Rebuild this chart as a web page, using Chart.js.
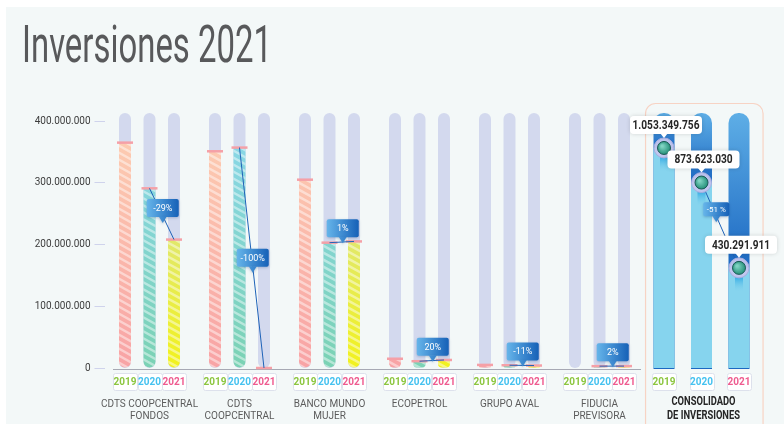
<!DOCTYPE html>
<html>
<head>
<meta charset="utf-8">
<script src="https://cdn.jsdelivr.net/npm/chart.js@4.4.1/dist/chart.umd.min.js"></script>
<style>
  html, body { margin: 0; padding: 0; background: #fff; }
  #wrap { position: relative; width: 784px; height: 424px; overflow: hidden; }
  #panel { position: absolute; left: 6px; top: 7px; right: 0; bottom: 0; background: #f3f8f8; }
  #main { position: absolute; left: 0; top: 0; }
  #cons { position: absolute; left: 600px; top: 0; }
</style>
</head>
<body>
<div id="wrap">
  <div id="panel"></div>
  <canvas id="main" width="784" height="424"></canvas>
  <canvas id="cons" width="184" height="424"></canvas>
</div>
<script>
// datos
const categories = [['CDTS COOPCENTRAL', 'FONDOS'], ['CDTS', 'COOPCENTRAL'], ['BANCO MUNDO', 'MUJER'], ['ECOPETROL'], ['GRUPO AVAL'], ['FIDUCIA', 'PREVISORA']];
const years = ['2019', '2020', '2021'];
const values2019 = [365e6, 351e6, 305e6, 15e6, 5e6, null];
const values2020 = [291e6, 357e6, 203e6, 11e6, 4.5e6, 3e6];
const values2021 = [208e6, 0, 205e6, 13e6, 4e6, 3.1e6];
const changes = ['-29%', '-100%', '1%', '20%', '-11%', '2%'];
const yTicks = [0, 100e6, 200e6, 300e6, 400e6];
const consolidated = [1053349756, 873623030, 430291911];
const consolidatedChange = '-51 %';
const consolidatedTitle = ['CONSOLIDADO', 'DE INVERSIONES'];
const title = 'Inversiones 2021';

// ejes
const Y_MAX = 413e6;
const CONS_MIN = -90e6;
const CONS_MAX = 1235e6;

const yearColors = { '2019': '#8cc63f', '2020': '#45c2f0', '2021': '#ef5b8f' };

const fmt = n => Math.round(n).toString().replace(/\B(?=(\d{3})+(?!\d))/g, '.');

function grad(bottom, top) {
  return c => {
    const ca = c.chart.chartArea;
    if (!ca) return bottom;
    const g = c.chart.ctx.createLinearGradient(0, ca.bottom, 0, ca.top);
    g.addColorStop(0, bottom);
    g.addColorStop(1, top);
    return g;
  };
}

function yearBox(ctx, x, text) {
  ctx.save();
  ctx.fillStyle = '#fff';
  ctx.strokeStyle = '#dde1ec';
  ctx.lineWidth = 1;
  ctx.beginPath();
  ctx.roundRect(Math.round(x - 12) + 0.5, 373.5, 24, 17, 2);
  ctx.fill();
  ctx.stroke();
  ctx.fillStyle = yearColors[text];
  ctx.font = 'bold 10px Roboto';
  ctx.textAlign = 'center';
  ctx.textBaseline = 'middle';
  ctx.fillText(text, x, 382.5);
  ctx.restore();
}

function callout(ctx, cx, cy, w, h, text, size) {
  ctx.save();
  const g = ctx.createLinearGradient(cx - w / 2, 0, cx + w / 2, 0);
  g.addColorStop(0, '#66b5ea');
  g.addColorStop(1, '#1660b7');
  ctx.shadowColor = 'rgba(0,40,100,0.25)';
  ctx.shadowBlur = 3;
  ctx.shadowOffsetY = 1;
  ctx.fillStyle = g;
  ctx.beginPath();
  ctx.roundRect(cx - w / 2, cy - h / 2, w, h, 2);
  ctx.fill();
  ctx.beginPath();
  ctx.moveTo(cx - 4, cy + h / 2 - 0.5);
  ctx.lineTo(cx + 4, cy + h / 2 - 0.5);
  ctx.lineTo(cx, cy + h / 2 + 6);
  ctx.closePath();
  ctx.fill();
  ctx.restore();
  ctx.save();
  ctx.fillStyle = '#fff';
  ctx.font = size + 'px Roboto';
  ctx.textAlign = 'center';
  ctx.textBaseline = 'middle';
  ctx.fillText(text, cx, cy + 0.5);
  ctx.restore();
}

function condensed(ctx, text, x, y, font, color, sx) {
  ctx.save();
  ctx.font = font;
  ctx.fillStyle = color;
  ctx.textAlign = 'center';
  ctx.textBaseline = 'middle';
  ctx.translate(x, y);
  ctx.scale(sx, 1);
  ctx.fillText(text, 0, 0);
  ctx.restore();
}

// grafico principal
const mainPlugin = {
  id: 'mainDecor',
  beforeDatasetsDraw(chart) {
    const { ctx, chartArea } = chart;
    // titulo
    ctx.save();
    ctx.font = '52px Roboto';
    const tw = ctx.measureText(title).width;
    ctx.fillStyle = '#58595b';
    ctx.textBaseline = 'alphabetic';
    ctx.translate(22, 62);
    ctx.scale(250 / tw, 1);
    ctx.fillText(title, 0, 0);
    ctx.restore();
    // pistas
    ctx.save();
    ctx.fillStyle = '#d3d9ee';
    chart.data.datasets.forEach((ds, di) => {
      chart.getDatasetMeta(di).data.forEach(el => {
        if (!isFinite(el.x)) return;
        ctx.beginPath();
        ctx.roundRect(el.x - 6, chartArea.top, 12, chartArea.bottom - chartArea.top, 6);
        ctx.fill();
      });
    });
    // eje x
    ctx.strokeStyle = '#a7a9b4';
    ctx.lineWidth = 1;
    ctx.beginPath();
    ctx.moveTo(113, chartArea.bottom + 1.5);
    ctx.lineTo(641, chartArea.bottom + 1.5);
    ctx.stroke();
    ctx.restore();
  },
  afterDatasetsDraw(chart) {
    const { ctx, scales } = chart;
    const metas = [0, 1, 2].map(i => chart.getDatasetMeta(i));
    // rayas y tapas
    metas.forEach((meta, di) => {
      meta.data.forEach((el, i) => {
        if (chart.data.datasets[di].data[i] === null) return;
        const w = el.width, x0 = el.x - w / 2;
        const top = Math.min(el.y, el.base), h = Math.abs(el.base - el.y);
        if (h > 1) {
          const r = Math.min(6, h / 2, w / 2);
          ctx.save();
          ctx.beginPath();
          ctx.roundRect(x0, top, w, h, [0, 0, r, r]);
          ctx.clip();
          ctx.strokeStyle = 'rgba(255,255,255,0.45)';
          ctx.lineWidth = 2.5;
          for (let y = top - 12; y < el.base + 4; y += 7) {
            ctx.beginPath();
            ctx.moveTo(x0 - 2, y);
            ctx.lineTo(x0 + w + 2, y + (w + 4) * 0.55);
            ctx.stroke();
          }
          ctx.restore();
        }
        ctx.save();
        ctx.strokeStyle = '#f5a0a7';
        ctx.lineWidth = 2.5;
        ctx.beginPath();
        ctx.moveTo(el.x - 8, el.y);
        ctx.lineTo(el.x + 8, el.y);
        ctx.stroke();
        ctx.restore();
      });
    });
    // variaciones
    changes.forEach((txt, i) => {
      const a = metas[1].data[i], b = metas[2].data[i];
      if (values2020[i] === null || values2021[i] === null) return;
      ctx.save();
      ctx.strokeStyle = '#1f63b8';
      ctx.lineWidth = 1;
      ctx.beginPath();
      ctx.moveTo(a.x, a.y);
      ctx.lineTo(b.x, b.y);
      ctx.stroke();
      ctx.restore();
      const mx = (a.x + b.x) / 2, my = (a.y + b.y) / 2;
      const dy = Math.abs(b.y - a.y);
      const cy = my - 14 * Math.max(0, 1 - dy / 90);
      callout(ctx, mx + 1, cy, 32, 18, txt, 9);
    });
    // etiquetas
    metas.forEach((meta, di) => {
      meta.data.forEach(el => yearBox(ctx, el.x, years[di]));
    });
    ctx.save();
    ctx.fillStyle = '#5b5b5b';
    ctx.font = '10px Roboto';
    ctx.textAlign = 'center';
    ctx.textBaseline = 'middle';
    categories.forEach((lines, i) => {
      const x = scales.x.getPixelForValue(i);
      lines.forEach((l, k) => ctx.fillText(l, x, 404 + k * 12));
    });
    ctx.restore();
  }
};

new Chart(document.getElementById('main'), {
  type: 'bar',
  data: {
    labels: categories,
    datasets: [
      { label: '2019', data: values2019, backgroundColor: grad('#f8a3a5', '#fdd0b2') },
      { label: '2020', data: values2020, backgroundColor: grad('#7bd2b4', '#8ad7ec') },
      { label: '2021', data: values2021, backgroundColor: grad('#f2f21c', '#d0deb8') }
    ].map(d => Object.assign(d, {
      borderSkipped: false,
      borderRadius: { topLeft: 0, topRight: 0, bottomLeft: 6, bottomRight: 6 },
      categoryPercentage: 0.8167,
      barPercentage: 0.49
    }))
  },
  options: {
    responsive: false,
    animation: false,
    layout: { padding: { left: 0, right: 139.5, top: 113, bottom: 56 } },
    plugins: { legend: { display: false }, tooltip: { enabled: false } },
    scales: {
      x: { display: false },
      y: {
        min: 0,
        max: Y_MAX,
        afterBuildTicks: s => { s.ticks = yTicks.map(v => ({ value: v })); },
        afterFit: s => { s.width = 104.5; },
        border: { display: false },
        grid: { drawOnChartArea: false, tickLength: 10, color: '#cfd3ec' },
        ticks: {
          padding: 4,
          color: '#3c3c3c',
          font: { family: 'Roboto', size: 10 },
          callback: v => fmt(v)
        }
      }
    }
  },
  plugins: [mainPlugin]
});

// consolidado
const consPlugin = {
  id: 'consDecor',
  beforeDatasetsDraw(chart) {
    const { ctx, chartArea } = chart;
    ctx.save();
    ctx.strokeStyle = '#f7d3c4';
    ctx.lineWidth = 1.2;
    ctx.beginPath();
    ctx.roundRect(chartArea.left + 0.3, 103.5, 117.5, 340, 10);
    ctx.stroke();
    chart.getDatasetMeta(0).data.forEach(el => {
      const g = ctx.createLinearGradient(0, chartArea.top, 0, el.y);
      g.addColorStop(0, '#5eaee6');
      g.addColorStop(1, '#1c68c2');
      ctx.fillStyle = g;
      ctx.beginPath();
      ctx.roundRect(el.x - el.width / 2, chartArea.top, el.width, chartArea.bottom - chartArea.top + 1, [10, 10, 0, 0]);
      ctx.fill();
    });
    ctx.restore();
  },
  afterDatasetsDraw(chart) {
    const { ctx } = chart;
    const els = chart.getDatasetMeta(0).data;
    // goteo
    els.forEach(el => {
      ctx.save();
      const g = ctx.createLinearGradient(0, el.y + 8, 0, el.y + 24);
      g.addColorStop(0, 'rgba(30,160,225,0.9)');
      g.addColorStop(1, 'rgba(130,212,238,0)');
      ctx.fillStyle = g;
      ctx.fillRect(el.x - 4, el.y + 8, 8, 16);
      ctx.restore();
    });
    // linea de variacion
    const a = els[1], b = els[2];
    ctx.save();
    ctx.strokeStyle = '#1f63b8';
    ctx.lineWidth = 1;
    ctx.beginPath();
    ctx.moveTo(a.x, a.y);
    ctx.lineTo(b.x, b.y);
    ctx.stroke();
    ctx.restore();
    callout(ctx, (a.x + b.x) / 2 - 4, (a.y + b.y) / 2 - 16, 26, 14, consolidatedChange, 8);
    // marcadores
    els.forEach(el => {
      ctx.save();
      ctx.fillStyle = 'rgba(196,198,238,0.95)';
      ctx.strokeStyle = '#a8addf';
      ctx.lineWidth = 1;
      ctx.beginPath();
      ctx.arc(el.x, el.y, 10, 0, Math.PI * 2);
      ctx.fill();
      ctx.stroke();
      const rg = ctx.createRadialGradient(el.x - 2, el.y - 2, 1, el.x, el.y, 7);
      rg.addColorStop(0, '#7fd3c1');
      rg.addColorStop(1, '#1f8c74');
      ctx.fillStyle = rg;
      ctx.strokeStyle = '#1b5a55';
      ctx.beginPath();
      ctx.arc(el.x, el.y, 6.5, 0, Math.PI * 2);
      ctx.fill();
      ctx.stroke();
      ctx.restore();
    });
    // valores
    els.forEach((el, i) => {
      const cx = el.x + 2, cy = el.y - 23;
      ctx.save();
      ctx.shadowColor = 'rgba(0,0,0,0.15)';
      ctx.shadowBlur = 4;
      ctx.fillStyle = '#fff';
      ctx.beginPath();
      ctx.roundRect(cx - 36, cy - 9, 72, 18, 4);
      ctx.fill();
      ctx.shadowColor = 'transparent';
      ctx.beginPath();
      ctx.moveTo(el.x - 4, cy + 8);
      ctx.lineTo(el.x + 4, cy + 8);
      ctx.lineTo(el.x, cy + 13);
      ctx.closePath();
      ctx.fill();
      ctx.restore();
      condensed(ctx, fmt(consolidated[i]), cx, cy + 0.5, 'bold 13px Roboto', '#262626', 0.78);
    });
    els.forEach((el, i) => yearBox(ctx, el.x, years[i]));
    const mid = els[1].x + 2;
    consolidatedTitle.forEach((l, k) => condensed(ctx, l, mid, 402 + k * 14, 'bold 12px Roboto', '#262626', 0.78));
  }
};

new Chart(document.getElementById('cons'), {
  type: 'bar',
  data: {
    labels: years,
    datasets: [{
      data: consolidated,
      base: CONS_MIN,
      backgroundColor: '#86d4ee',
      borderSkipped: false,
      borderRadius: 0,
      barPercentage: 0.56,
      categoryPercentage: 1
    }]
  },
  options: {
    responsive: false,
    animation: false,
    layout: { padding: { left: 45.25, right: 26.25, top: 113, bottom: 56 } },
    plugins: { legend: { display: false }, tooltip: { enabled: false } },
    scales: {
      x: { display: false },
      y: { display: false, min: CONS_MIN, max: CONS_MAX }
    }
  },
  plugins: [consPlugin]
});
</script>
</body>
</html>
